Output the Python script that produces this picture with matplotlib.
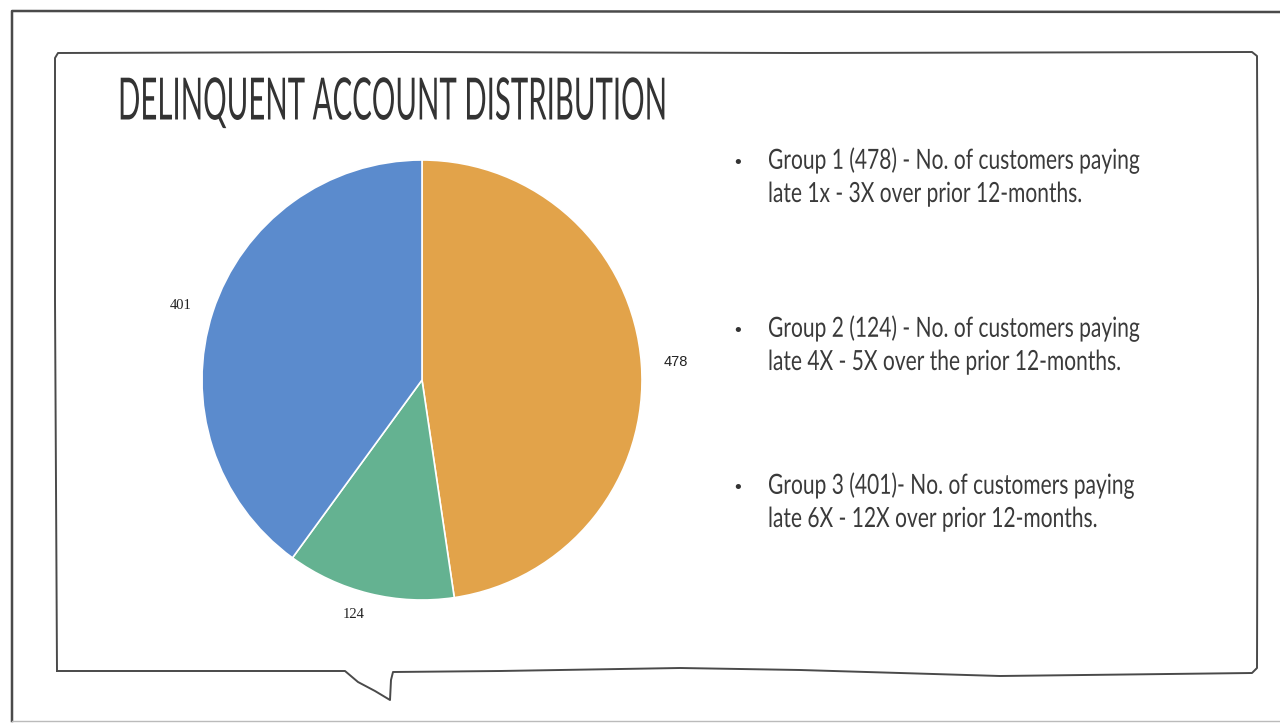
import matplotlib
matplotlib.use("Agg")
import matplotlib.pyplot as plt
import matplotlib.patheffects as pe
from matplotlib.transforms import Affine2D

# data
groups = ["Group 1", "Group 2", "Group 3"]
counts = [478, 124, 401]
colors = ["#E2A34A", "#64B291", "#5B8BCD"]
title = "DELINQUENT ACCOUNT DISTRIBUTION"
bullets = [
    ["Group 1 (478) - No. of customers paying", "late 1x - 3X over prior 12-months."],
    ["Group 2 (124) - No. of customers paying", "late 4X - 5X over the prior 12-months."],
    ["Group 3 (401)- No. of customers paying", "late 6X - 12X over prior 12-months."],
]

ink = "#4a4a4a"
font = ["Lato", "DejaVu Sans"]


class Condense(pe.AbstractPathEffect):
    """squeeze glyphs horizontally around the text origin (the slide font is very narrow)"""
    def __init__(self, sx):
        super().__init__()
        self.sx = sx

    def draw_path(self, renderer, gc, tpath, affine, rgbFace=None):
        renderer.draw_path(gc, tpath, Affine2D().scale(self.sx, 1) + affine, rgbFace)


fig = plt.figure(figsize=(12.8, 7.23), dpi=100)
fig.patch.set_facecolor("white")

# background axes in pixel coordinates for frame, bubble and text
bg = fig.add_axes([0, 0, 1, 1])
bg.set_xlim(0, 1280)
bg.set_ylim(723, 0)
bg.axis("off")

# outer frame
bg.plot([12, 12, 1280], [721, 11, 12], color=ink, lw=1.8)
bg.plot([12, 1280], [721, 721], color="#bbbbbb", lw=1.0)

# speech bubble outline
bx = [57, 55, 55, 58, 400, 800, 1252, 1257, 1258, 1257, 1252,
      1000, 800, 680, 500, 393, 391, 390, 375, 358, 345, 57]
by = [671, 300, 58, 53, 52, 53, 52, 56, 300, 668, 673,
      676, 670, 668, 671, 672, 680, 700, 691, 682, 671, 671]
bg.plot(bx, by, color=ink, lw=1.4, solid_joinstyle="round")

# title
t_title = bg.text(118, 103, title, fontsize=42, family=font,
                  color="#333333", ha="left", va="center")

# bullet text
ys = [160, 328, 485]
body = []
for y, lines in zip(ys, bullets):
    bg.text(738, y + 3, "\u2022", fontsize=13, color="#333333", ha="center", va="center")
    body.append(bg.text(768, y, lines[0], fontsize=20, family=font,
                        color="#3a3a3a", ha="left", va="center"))
    body.append(bg.text(768, y + 34, lines[1], fontsize=20, family=font,
                        color="#3a3a3a", ha="left", va="center"))

# pie
ax = fig.add_axes([202 / 1280, (723 - 600) / 723, 440 / 1280, 440 / 723])
wedges, texts = ax.pie(counts, colors=colors, labels=[str(c) for c in counts],
                       startangle=90, counterclock=False, labeldistance=1.1,
                       wedgeprops=dict(edgecolor="white", linewidth=1.2))
label_fonts = ["Liberation Sans", "Liberation Serif", "Liberation Serif"]
for t, f in zip(texts, label_fonts):
    t.set_fontsize(10.5)
    t.set_family(f)
    t.set_color("#222222")
ax.set_xlim(-1, 1)
ax.set_ylim(-1, 1)
ax.set_aspect("equal")

# squeeze title and body text to the widths seen on the slide
fig.canvas.draw()
r = fig.canvas.get_renderer()
sx_title = 550 / t_title.get_window_extent(r).width
t_title.set_path_effects([Condense(sx_title)])
sx_body = 372 / body[0].get_window_extent(r).width
for t in body:
    t.set_path_effects([Condense(sx_body)])

fig.savefig("out.png", dpi=100, facecolor="white")
